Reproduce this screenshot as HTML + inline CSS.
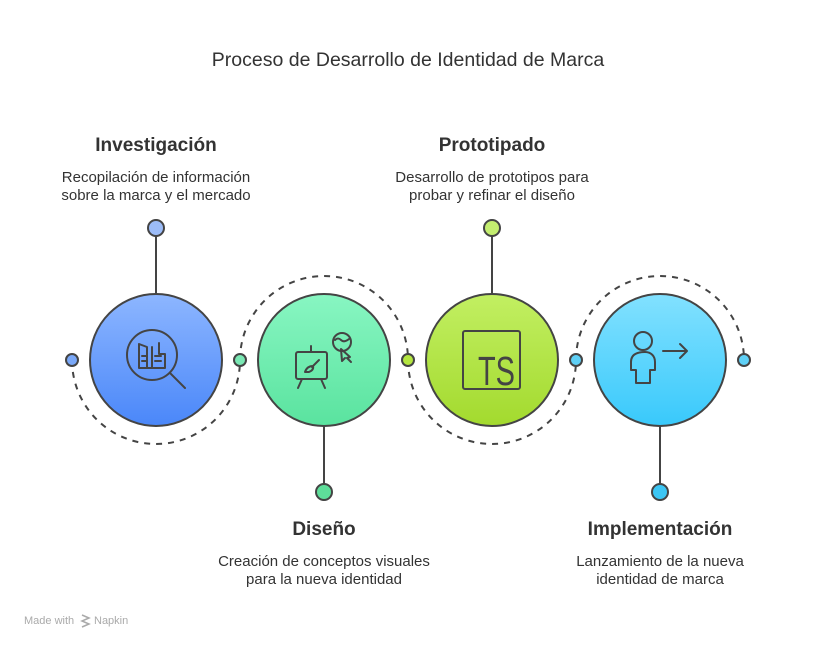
<!DOCTYPE html>
<html><head><meta charset="utf-8"><style>
body{margin:0;background:#fff;}
svg{display:block;font-family:"Liberation Sans",sans-serif;}
</style></head><body>
<svg width="816" height="648" viewBox="0 0 816 648" xmlns="http://www.w3.org/2000/svg">
<defs>
<linearGradient id="g1" x1="0" y1="0" x2="0" y2="1"><stop offset="0" stop-color="#8db6ff"/><stop offset="1" stop-color="#4a87f9"/></linearGradient>
<linearGradient id="g2" x1="0" y1="0" x2="0" y2="1"><stop offset="0" stop-color="#88f6c2"/><stop offset="1" stop-color="#5ae39f"/></linearGradient>
<linearGradient id="g3" x1="0" y1="0" x2="0" y2="1"><stop offset="0" stop-color="#c2ef62"/><stop offset="1" stop-color="#a3da2e"/></linearGradient>
<linearGradient id="g4" x1="0" y1="0" x2="0" y2="1"><stop offset="0" stop-color="#82e1ff"/><stop offset="1" stop-color="#39c9fb"/></linearGradient>
</defs>
<text x="408" y="66" font-size="19.5" fill="#333" text-anchor="middle">Proceso de Desarrollo de Identidad de Marca</text>

<g fill="none" stroke="#444" stroke-width="2" stroke-dasharray="6,6">
<path d="M72 360 A84 84 0 0 0 240 360"/>
<path d="M240 360 A84 84 0 0 1 408 360"/>
<path d="M408 360 A84 84 0 0 0 576 360"/>
<path d="M576 360 A84 84 0 0 1 744 360"/>
</g>
<g stroke="#444" stroke-width="2">
<line x1="156" y1="234" x2="156" y2="294"/>
<line x1="324" y1="426" x2="324" y2="486"/>
<line x1="492" y1="234" x2="492" y2="294"/>
<line x1="660" y1="426" x2="660" y2="486"/>
</g>
<g stroke="#444" stroke-width="2">
<circle cx="156" cy="360" r="66" fill="url(#g1)"/>
<circle cx="324" cy="360" r="66" fill="url(#g2)"/>
<circle cx="492" cy="360" r="66" fill="url(#g3)"/>
<circle cx="660" cy="360" r="66" fill="url(#g4)"/>
<circle cx="72" cy="360" r="6" fill="#7aa8f8"/>
<circle cx="240" cy="360" r="6" fill="#7ae8b4"/>
<circle cx="408" cy="360" r="6" fill="#b4e640"/>
<circle cx="576" cy="360" r="6" fill="#5fd0f6"/>
<circle cx="744" cy="360" r="6" fill="#5fd0f6"/>
<circle cx="156" cy="228" r="8" fill="#9cbcf8"/>
<circle cx="324" cy="492" r="8" fill="#5ede9a"/>
<circle cx="492" cy="228" r="8" fill="#c4ee70"/>
<circle cx="660" cy="492" r="8" fill="#3cc6f4"/>
</g>
<!-- icons -->
<g fill="none" stroke="#444" stroke-width="2" stroke-linecap="round" stroke-linejoin="round">
<circle cx="152" cy="355" r="25"/>
<line x1="170" y1="373" x2="185" y2="388"/>
<path d="M139 344 v24 h26 v-14 h-6 v-11 M139 344 l8 3 v21 M152 347 v21 M142 356 h5 M142 361 h5 M155 356 h6 M155 361 h6"/>
<rect x="296" y="352" width="31" height="27" rx="2"/>
<line x1="311" y1="346" x2="311" y2="352"/>
<line x1="302" y1="379" x2="298" y2="388"/><line x1="321" y1="379" x2="325" y2="388"/>
<path d="M305 372 q2 -6 8 -6 q1 4 -4 6 z M312 367 l7 -7"/>
<circle cx="342" cy="342" r="9"/>
<path d="M335 340 q3 -3 6 0 q3 3 8 -1"/>
<path d="M341 349 l9 8 l-3 1 l4 4 M341 349 l1 12 l3 -3"/>
<rect x="463" y="331" width="57" height="58" rx="2"/>
<circle cx="643" cy="341" r="9"/>
<path d="M645 352 c-10 0 -14 4 -14 10 v8 h5 v13 h14 v-13 h5 v-8 c0 -6 -4 -10 -10 -10z"/>
<path d="M663 351 h24 M680 344 l7 7 l-7 7"/>
</g>
<text x="478" y="385" font-size="41" fill="#444" textLength="37" lengthAdjust="spacingAndGlyphs">TS</text>

<g text-anchor="middle" fill="#333">
<text x="156" y="151" font-size="19" font-weight="bold">Investigación</text>
<text x="156" y="182" font-size="15">Recopilación de información</text>
<text x="156" y="200" font-size="15">sobre la marca y el mercado</text>
<text x="492" y="151" font-size="19" font-weight="bold">Prototipado</text>
<text x="492" y="182" font-size="15">Desarrollo de prototipos para</text>
<text x="492" y="200" font-size="15">probar y refinar el diseño</text>
<text x="324" y="535" font-size="19" font-weight="bold">Diseño</text>
<text x="324" y="566" font-size="15">Creación de conceptos visuales</text>
<text x="324" y="584" font-size="15">para la nueva identidad</text>
<text x="660" y="535" font-size="19" font-weight="bold">Implementación</text>
<text x="660" y="566" font-size="15">Lanzamiento de la nueva</text>
<text x="660" y="584" font-size="15">identidad de marca</text>
</g>
<text x="24" y="624" font-size="11" fill="#aaa">Made with</text>
<path d="M82 615 l7 3 l-7 3 l7 3 l-7 3" fill="none" stroke="#aaa" stroke-width="1.5"/>
<text x="94" y="624" font-size="11" fill="#aaa">Napkin</text>
</svg>
</body></html>
